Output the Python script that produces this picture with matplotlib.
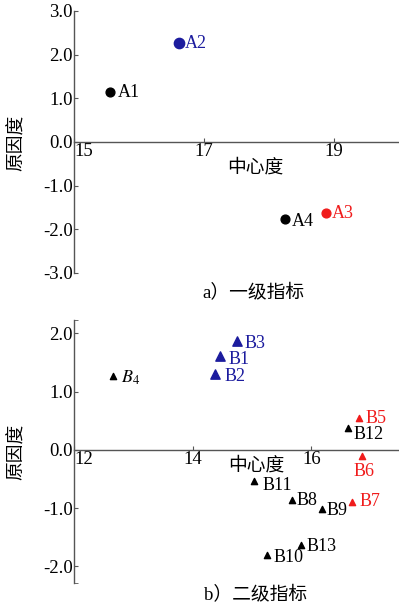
import matplotlib
matplotlib.use("Agg")
import matplotlib.pyplot as plt

plt.rcParams['font.family'] = ['Liberation Serif', 'Noto Sans CJK SC']
plt.rcParams['mathtext.fontset'] = 'stix'
plt.rcParams['axes.unicode_minus'] = True

# first-level indicators (centrality, cause degree)
a_names = ['A1', 'A2', 'A3', 'A4']
a_center = [15.55, 16.61, 18.87, 18.24]
a_cause = [1.14, 2.26, -1.63, -1.76]
a_colors = ['black', '#1c1c9e', '#f01c1c', 'black']

# second-level indicators
b_names = ['B1', 'B2', 'B3', r'$\mathit{B}_4$', 'B5', 'B6', 'B7',
           'B8', 'B9', 'B10', 'B11', 'B12', 'B13']
b_center = [14.46, 14.38, 14.74, 12.66, 16.81, 16.85, 16.68,
            15.68, 16.18, 15.26, 15.04, 16.62, 15.82]
b_cause = [1.62, 1.31, 1.87, 1.27, 0.54, -0.11, -0.89,
           -0.86, -1.01, -1.81, -0.54, 0.38, -1.63]
b_colors = ['#1c1c9e'] * 3 + ['black'] + ['#f01c1c'] * 3 + ['black'] * 6

a_yticks = [3.0, 2.0, 1.0, 0.0, -1.0, -2.0, -3.0]
a_xticks = [15, 17, 19]
b_yticks = [2.0, 1.0, 0.0, -1.0, -2.0]
b_xticks = [12, 14, 16]

# label offsets in points (dx, dy, ha)
a_off = {'A1': (6, 0, 'left'), 'A2': (4.5, 0, 'left'),
         'A3': (4.5, 0, 'left'), 'A4': (5.5, -2, 'left')}
b_off = {'B1': (6.5, -3, 'left'), 'B2': (6.5, -2, 'left'), 'B3': (6, -1.5, 'left'),
         r'$\mathit{B}_4$': (6, -1, 'left'), 'B5': (4.5, 0, 'left'),
         'B6': (2, -11, 'center'), 'B7': (6, 0, 'left'), 'B8': (3, 0, 'left'),
         'B9': (3, -1.5, 'left'), 'B10': (4.5, -1.5, 'left'), 'B11': (6, -3, 'left'),
         'B12': (4, -5, 'left'), 'B13': (4.5, -1.5, 'left')}

axcol = '#555555'
fig = plt.figure(figsize=(3.99, 6.10), dpi=100)
axa = fig.add_axes([0.1855, 0.5525, 0.8145, 0.4295])
axb = fig.add_axes([0.1855, 0.0447, 0.8145, 0.4307])


def style(ax, xlim, ylim, xt, yt):
    ax.set_xlim(*xlim)
    ax.set_ylim(*ylim)
    for s in ['top', 'right']:
        ax.spines[s].set_visible(False)
    ax.spines['bottom'].set_position(('data', 0))
    for s in ['left', 'bottom']:
        ax.spines[s].set_color(axcol)
        ax.spines[s].set_linewidth(1.0)
    ax.set_xticks(xt)
    ax.set_yticks(yt)
    ax.set_yticklabels(['%.1f' % v for v in yt])
    ax.set_yticks(list(ylim), minor=True)
    ax.tick_params(axis='both', direction='in', length=3, color=axcol,
                   labelsize=13.5, pad=1)
    ax.tick_params(axis='y', which='minor', direction='in', length=3, color=axcol)
    ax.tick_params(axis='x', pad=1)
    ax.xaxis.set_minor_locator(matplotlib.ticker.NullLocator())
    labs = ax.get_xticklabels()
    labs[0].set_ha('left')


style(axa, (15, 20), (-3.0, 3.0), a_xticks, a_yticks)
style(axb, (12, 17.48), (-2.28, 2.23), b_xticks, b_yticks)

for n, x, y, c in zip(a_names, a_center, a_cause, a_colors):
    s = 55 if n == 'A2' else 40
    axa.scatter(x, y, s=s, color=c, zorder=3, clip_on=False)
    dx, dy, ha = a_off[n]
    axa.annotate(n, (x, y), xytext=(dx, dy), textcoords='offset points',
                 ha=ha, va='center', color=c, fontsize=13)

for n, x, y, c in zip(b_names, b_center, b_cause, b_colors):
    s = 45 if c == '#1c1c9e' else 20
    axb.scatter(x, y, s=s, marker='^', color=c, zorder=3, clip_on=False)
    dx, dy, ha = b_off[n]
    axb.annotate(n, (x, y), xytext=(dx, dy), textcoords='offset points',
                 ha=ha, va='center', color=c, fontsize=13)

axa.text(17.79, -0.6, '中心度', ha='center', va='center', fontsize=13.5)
axb.text(15.08, -0.27, '中心度', ha='center', va='center', fontsize=13.5)
fig.text(17 / 399, 1 - 143 / 610, '原因度', rotation=90, ha='center', va='center', fontsize=13.5)
fig.text(17 / 399, 1 - 452 / 610, '原因度', rotation=90, ha='center', va='center', fontsize=13.5)
fig.text(253 / 399, 1 - 293 / 610, 'a）一级指标', ha='center', va='center', fontsize=13.5)
fig.text(256 / 399, 1 - 595 / 610, 'b）二级指标', ha='center', va='center', fontsize=13.5)

fig.savefig('out.png', dpi=100)
